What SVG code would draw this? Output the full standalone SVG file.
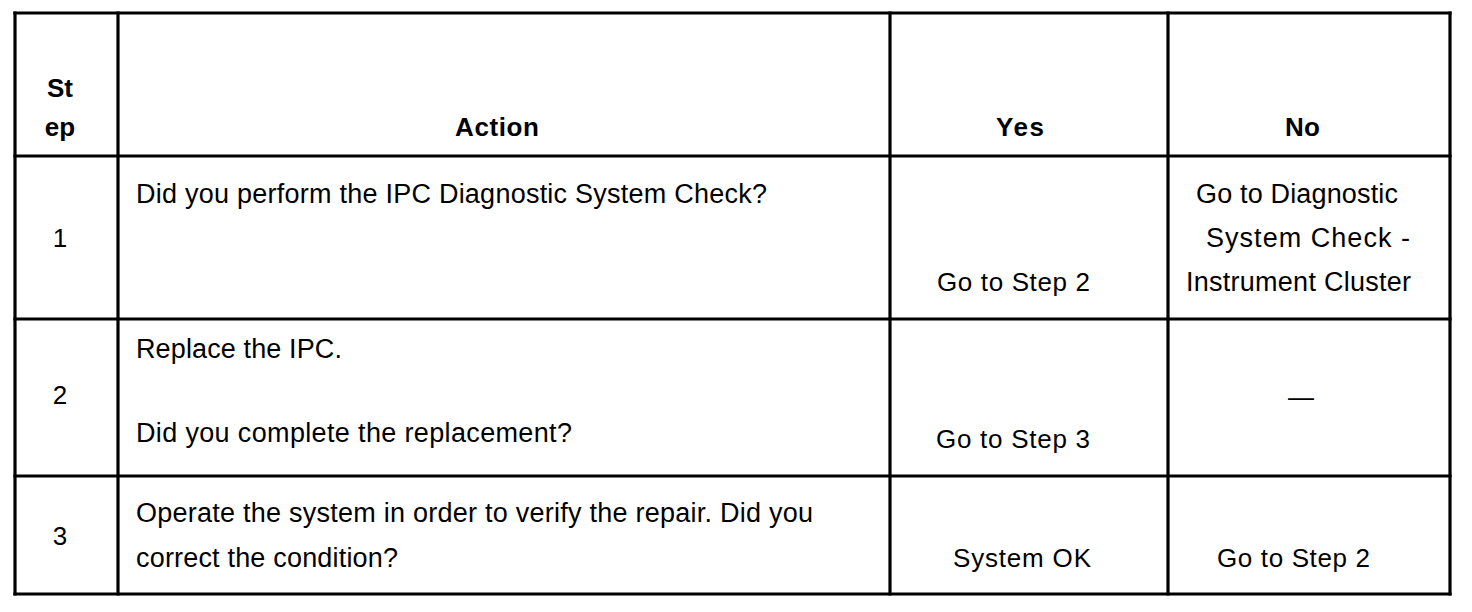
<svg xmlns="http://www.w3.org/2000/svg" width="1472" height="612" viewBox="0 0 1472 612">
<style>
.grid line{stroke:#000;stroke-width:3.2;stroke-linecap:square}
text{font-family:"Liberation Sans",Arial,sans-serif;font-size:26px;fill:#000}
.a{font-size:27px}
.h{font-weight:bold}
.c{text-anchor:middle}
</style>
<rect x="0" y="0" width="1472" height="612" fill="#fff"/>
<g id="grid" class="grid">
<line x1="15" y1="13" x2="1450" y2="13"/>
<line x1="15" y1="156" x2="1450" y2="156"/>
<line x1="15" y1="319" x2="1450" y2="319"/>
<line x1="15" y1="476" x2="1450" y2="476"/>
<line x1="15" y1="594" x2="1450" y2="594"/>
<line x1="15" y1="13" x2="15" y2="594"/>
<line x1="118" y1="13" x2="118" y2="594"/>
<line x1="890" y1="13" x2="890" y2="594"/>
<line x1="1168" y1="13" x2="1168" y2="594"/>
<line x1="1450" y1="13" x2="1450" y2="594"/>
</g>
<g id="header">
<text class="h c" x="60" y="97">St</text>
<text class="h c" x="60" y="136">ep</text>
<text class="h" x="455" y="136" textLength="84">Action</text>
<text class="h" x="996" y="136" textLength="48">Yes</text>
<text class="h" x="1285" y="136" textLength="35">No</text>
</g>
<g id="row1">
<text class="c" x="60" y="247">1</text>
<text class="a" x="136" y="203" textLength="631">Did you perform the IPC Diagnostic System Check?</text>
<text x="937" y="291" textLength="153">Go to Step 2</text>
<text class="a" x="1196" y="203" textLength="202">Go to Diagnostic</text>
<text class="a" x="1206" y="247" textLength="204">System Check -</text>
<text class="a" x="1186" y="291" textLength="225">Instrument Cluster</text>
</g>
<g id="row2">
<text class="c" x="60" y="404">2</text>
<text class="a" x="136" y="358" textLength="206">Replace the IPC.</text>
<text class="a" x="136" y="442" textLength="436">Did you complete the  replacement?</text>
<text x="936" y="448" textLength="154">Go to Step 3</text>
<text x="1288" y="406" textLength="28">—</text>
</g>
<g id="row3">
<text class="c" x="60" y="545">3</text>
<text class="a" x="136" y="522" textLength="677">Operate the system in order to verify the repair. Did you</text>
<text class="a" x="136" y="567" textLength="262">correct the condition?</text>
<text x="953" y="567" textLength="138">System OK</text>
<text x="1217" y="567" textLength="153">Go to Step 2</text>
</g>
</svg>
